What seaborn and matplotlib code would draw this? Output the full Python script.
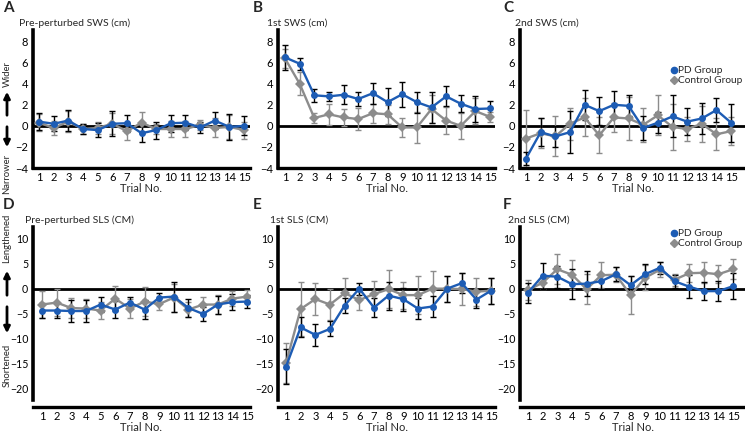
import numpy as np
import pandas as pd
import matplotlib
matplotlib.use("Agg")
import matplotlib.pyplot as plt
import seaborn as sns

trials = list(range(1, 16))

pd_A = [0.4, 0.2, 0.5, -0.3, -0.4, 0.2, 0.25, -0.7, -0.4, 0.25, 0.3, -0.15, 0.5, -0.1, 0.0]
ct_A = [0.3, -0.2, 0.4, -0.3, -0.2, 0.2, -0.5, 0.3, -0.3, -0.3, -0.3, 0.1, -0.2, -0.1, -0.4]
pd_A_err = [0.8, 0.7, 1.0, 0.5, 0.7, 1.2, 0.8, 0.8, 0.8, 0.8, 0.7, 0.5, 0.8, 1.2, 0.9]
ct_A_err = [0.8, 0.7, 1.0, 0.5, 0.6, 1.0, 0.8, 1.0, 0.5, 0.8, 0.8, 0.5, 0.9, 1.1, 0.8]

pd_B = [6.5, 5.9, 2.9, 2.8, 2.95, 2.55, 3.1, 2.25, 3.0, 2.25, 1.75, 2.8, 2.1, 1.6, 1.65]
ct_B = [6.4, 4.0, 0.75, 1.1, 0.8, 0.65, 1.2, 1.1, -0.15, -0.15, 1.6, 0.5, 0.0, 1.4, 0.85]
pd_B_err = [1.2, 0.55, 0.6, 0.45, 0.9, 0.7, 1.0, 1.3, 1.2, 1.0, 1.5, 0.95, 0.8, 1.2, 0.7]
ct_B_err = [0.9, 1.1, 0.5, 1.0, 0.8, 1.0, 0.9, 0.9, 0.9, 1.5, 1.3, 1.3, 1.2, 1.2, 0.5]

pd_C = [-3.1, -0.6, -1.0, -0.6, 2.0, 1.4, 2.0, 1.9, -0.2, 0.3, 0.9, 0.4, 0.7, 1.5, 0.3]
ct_C = [-1.2, -0.7, -1.0, 0.2, 0.8, -0.9, 0.8, 0.7, 0.1, 1.0, -0.1, -0.3, 0.2, -0.8, -0.5]
pd_C_err = [0.6, 1.3, 1.0, 2.0, 1.4, 1.3, 1.3, 1.0, 1.1, 1.0, 2.0, 1.3, 1.5, 1.1, 1.8]
ct_C_err = [2.7, 1.4, 1.9, 1.5, 1.8, 1.7, 1.4, 2.0, 1.6, 1.9, 2.2, 1.1, 1.7, 1.5, 1.3]

pd_D = [-4.4, -4.4, -4.5, -4.5, -3.2, -4.2, -2.8, -4.2, -1.8, -1.6, -3.9, -5.1, -3.2, -2.7, -2.6]
ct_D = [-3.2, -2.8, -3.9, -4.0, -4.4, -2.0, -4.0, -2.6, -3.1, -1.8, -4.2, -3.2, -3.2, -2.0, -1.6]
pd_D_err = [1.5, 1.6, 2.3, 2.3, 1.5, 1.8, 1.2, 2.0, 1.0, 3.0, 1.8, 1.5, 1.8, 1.6, 1.3]
ct_D_err = [2.7, 2.8, 2.0, 2.0, 1.7, 2.5, 2.0, 3.0, 1.2, 2.8, 1.5, 1.6, 2.0, 1.5, 1.3]

pd_E = [-15.7, -7.8, -9.3, -8.1, -3.4, 0.0, -3.8, -1.4, -2.1, -4.0, -3.6, 0.0, 1.1, -2.2, -0.4]
ct_E = [-15.0, -4.1, -2.1, -3.2, -0.9, -2.3, -1.1, -0.1, -1.3, -1.3, 0.0, 0.0, -0.1, -0.6, -0.4]
pd_E_err = [3.5, 2.0, 2.2, 1.5, 1.5, 1.2, 2.0, 2.8, 2.3, 2.2, 2.2, 2.6, 2.0, 1.6, 2.6]
ct_E_err = [4.0, 5.5, 3.2, 3.2, 3.0, 2.0, 2.7, 3.8, 2.7, 3.8, 3.5, 2.6, 3.2, 2.8, 2.6]

pd_F = [-0.8, 2.6, 2.4, 0.9, 1.0, 1.5, 2.9, 0.7, 2.9, 4.2, 1.5, 0.4, -0.5, -0.5, 0.5]
ct_F = [-0.3, 1.2, 3.9, 2.8, -0.1, 2.7, 2.8, -1.3, 2.2, 3.8, 1.8, 3.1, 3.2, 2.9, 3.9]
pd_F_err = [2.0, 2.6, 2.2, 3.0, 2.5, 1.5, 1.4, 1.8, 2.0, 1.2, 1.3, 2.3, 1.8, 2.0, 2.6]
ct_F_err = [2.0, 1.3, 3.0, 2.9, 3.0, 2.6, 1.5, 3.8, 2.5, 1.5, 1.2, 1.8, 2.1, 1.8, 2.0]

letters = ["A", "B", "C", "D", "E", "F"]
titles = ["Pre-perturbed SWS (cm)", "1st SWS (cm)", "2nd SWS (cm)",
          "Pre-perturbed SLS (CM)", "1st SLS (CM)", "2nd SLS (CM)"]
group_names = ["PD Group", "Control Group"]
xlabel = "Trial No."

sns.set_theme(style="white")
plt.rcParams["font.family"] = ["Lato", "DejaVu Sans"]
plt.rcParams["axes.unicode_minus"] = True

BLUE = "#1d5cb4"
GRAY = "#8c8c8c"

W, H = 745, 433
fig = plt.figure(figsize=(W / 100, H / 100), dpi=100)

def px_axes(left, top, right, bottom):
    return fig.add_axes([left / W, 1 - bottom / H, (right - left) / W, (bottom - top) / H])

panels = [
    (pd_A, ct_A, pd_A_err, ct_A_err),
    (pd_B, ct_B, pd_B_err, ct_B_err),
    (pd_C, ct_C, pd_C_err, ct_C_err),
    (pd_D, ct_D, pd_D_err, ct_D_err),
    (pd_E, ct_E, pd_E_err, ct_E_err),
    (pd_F, ct_F, pd_F_err, ct_F_err),
]

# pixel boxes (left, top, right, bottom)
boxes = [(33, 30, 250, 168), (278, 30, 495, 168), (520, 30, 745, 168),
         (33, 227, 250, 400), (278, 227, 495, 400), (520, 227, 745, 400)]
tick1 = [39, 285, 526, 42, 286, 528]
title_dx = [-14, -11, -5, -8, -8, -12]
letter_x = [3, 253, 503, 3, 253, 503]
pxunit = 14.65

for i, (pdv, ctv, pde, cte) in enumerate(panels):
    l, t, r, b = boxes[i]
    ax = px_axes(l, t, r, b)
    x0 = 1 - (tick1[i] - l) / pxunit
    x1 = x0 + (r - l) / pxunit
    ax.set_xlim(x0, x1)
    top_row = i < 3
    if top_row:
        ax.set_ylim(-4, 9.1)
        ax.set_yticks([-4, -2, 0, 2, 4, 6, 8])
    else:
        ax.set_ylim(-22.4, 12.4)
        ax.set_yticks([-20, -15, -10, -5, 0, 5, 10])
    ax.set_yticklabels([str(v).replace("-", "\u2212") for v in ax.get_yticks().astype(int)])
    ax.set_xticks(trials)
    ax.axhline(0, color="black", lw=2.0, zorder=1)

    df = pd.DataFrame({"Trial": trials * 2,
                       "Value": pdv + ctv,
                       "Group": [group_names[0]] * 15 + [group_names[1]] * 15})
    eb = ax.errorbar(trials, ctv, yerr=cte, fmt="none", ecolor=GRAY, elinewidth=1.0,
                     capsize=2.2, capthick=1.0, zorder=2)
    for cl in eb[1]:
        cl.set_color("black")
    ax.errorbar(trials, pdv, yerr=pde, fmt="none", ecolor="black", elinewidth=1.0,
                capsize=2.2, capthick=1.0, zorder=2)
    sns.lineplot(data=df, x="Trial", y="Value", hue="Group", style="Group",
                 markers={"PD Group": "o", "Control Group": "D"}, dashes=False,
                 palette={"PD Group": BLUE, "Control Group": GRAY},
                 hue_order=[group_names[1], group_names[0]],
                 linewidth=1.7, markersize=5, markeredgewidth=0,
                 ax=ax, legend=False, zorder=3)
    ax.set_xlabel(xlabel, fontsize=8, labelpad=0)
    ax.set_ylabel("")
    for s in ["top", "right"]:
        ax.spines[s].set_visible(False)
    ax.spines["left"].set_linewidth(2.6)
    ax.spines["left"].set_color("black")
    ax.spines["bottom"].set_linewidth(2.4)
    ax.spines["bottom"].set_color("black")
    if not top_row:
        ax.spines["bottom"].set_position(("outward", 5))
    ax.tick_params(axis="y", direction="inout", length=5, width=2,
                   labelsize=8 if top_row else 7.6, pad=1, colors="black")
    ax.tick_params(axis="x", length=0, labelsize=8, pad=3, colors="black")
    ax.set_facecolor("none")
    ax.grid(False)
    fig.text((l + title_dx[i]) / W, 1 - (t - 7) / H, titles[i],
             fontsize=7.5, ha="left", va="center")
    fig.text(letter_x[i] / W, 1 - (t - 22) / H, letters[i], fontsize=11, fontweight="bold",
             ha="left", va="center")

    if i in (2, 5):
        handles = [plt.Line2D([], [], marker="o", color=BLUE, lw=0, markersize=4.5),
                   plt.Line2D([], [], marker="D", color=GRAY, lw=0, markersize=4)]
        ly = 66 if i == 2 else 229
        fig.legend(handles, group_names, loc="upper left",
                   bbox_to_anchor=(671 / W, 1 - ly / H), frameon=False, fontsize=7.3,
                   handlelength=0.5, handletextpad=0.2, borderpad=0, labelspacing=0.1,
                   borderaxespad=0)

def side(text, yc):
    fig.text(7 / W, 1 - yc / H, text, rotation=90, fontsize=6.8, ha="center", va="center")

def arrow(y_from, y_to):
    fig.add_artist(matplotlib.patches.FancyArrowPatch(
        (7 / W, 1 - y_from / H), (7 / W, 1 - y_to / H), transform=fig.transFigure,
        arrowstyle="-|>", mutation_scale=9, lw=2, color="black"))

side("Wider", 74)
arrow(118, 89)
arrow(124, 150)
side("Narrower", 174)
side("Lengthened", 238)
arrow(298, 268)
arrow(304, 336)
side("Shortened", 365)

fig.savefig("out.png", dpi=100)
